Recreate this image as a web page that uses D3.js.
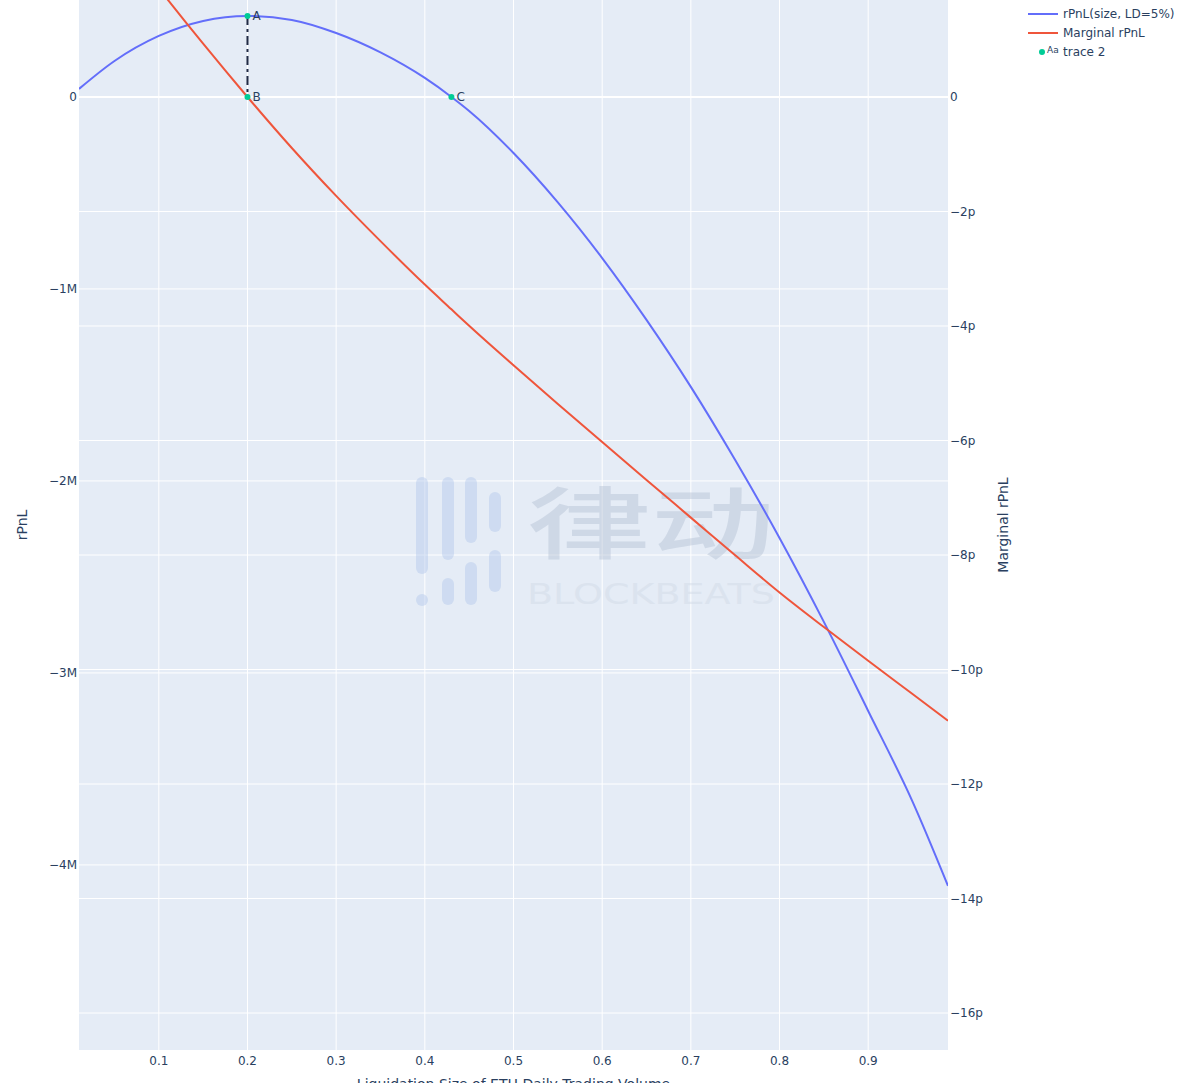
<!DOCTYPE html>
<html>
<head>
<meta charset="utf-8">
<script src="https://cdn.jsdelivr.net/npm/d3@7"></script>
<style>
  html, body { margin: 0; padding: 0; background: #fff; }
  svg { display: block; }
  text { font-family: "DejaVu Sans", Verdana, sans-serif; fill: #2a3f5f; }
</style>
</head>
<body>
<svg id="chart" width="1190" height="1083"></svg>
<script>
// ---- data ----
const xValues = [0.01, 0.05, 0.10, 0.15, 0.20, 0.25, 0.30, 0.35, 0.40, 0.43, 0.45, 0.50, 0.55, 0.60, 0.65, 0.70, 0.75, 0.80, 0.85, 0.90, 0.95, 0.99];
const rpnlValues = [0.042e6, 0.1875e6, 0.318e6, 0.396e6, 0.422e6, 0.401e6, 0.333e6, 0.232e6, 0.099e6, 0.0, -0.073e6, -0.292e6, -0.549e6, -0.839e6, -1.161e6, -1.510e6, -1.891e6, -2.297e6, -2.734e6, -3.198e6, -3.67e6, -4.109e6];
const marginalValues = [3.742e-12, 2.905e-12, 1.898e-12, 0.93e-12, 0.0, -0.891e-12, -1.728e-12, -2.518e-12, -3.277e-12, -3.709e-12, -3.997e-12, -4.687e-12, -5.361e-12, -6.027e-12, -6.689e-12, -7.347e-12, -8.005e-12, -8.655e-12, -9.259e-12, -9.848e-12, -10.428e-12, -10.893e-12];
const markerPoints = [
  { label: "A", x: 0.2, y: 0.422e6 },
  { label: "B", x: 0.2, y: 0 },
  { label: "C", x: 0.43, y: 0 }
];
const xTicks = [0.1, 0.2, 0.3, 0.4, 0.5, 0.6, 0.7, 0.8, 0.9];
const yLeftTicks = [0, -1e6, -2e6, -3e6, -4e6];
const yLeftLabels = ["0", "\u22121M", "\u22122M", "\u22123M", "\u22124M"];
const yRightTicks = [0, -2e-12, -4e-12, -6e-12, -8e-12, -10e-12, -12e-12, -14e-12, -16e-12];
const yRightLabels = ["0", "\u22122p", "\u22124p", "\u22126p", "\u22128p", "\u221210p", "\u221212p", "\u221214p", "\u221216p"];
const seriesNames = ["rPnL(size, LD=5%)", "Marginal rPnL", "trace 2"];
const xTitle = "Liquidation Size of ETH Daily Trading Volume";

// ---- layout ----
const svg = d3.select("#chart");
const L = 79, R = 948, T = 0, B = 1050;
const colors = { blue: "#636efa", red: "#ef553b", green: "#00cc96", bg: "#e5ecf6" };

const x = d3.scaleLinear().domain([0.01, 0.99]).range([L, R]);
const yL = d3.scaleLinear().domain([-4.964e6, 0.505e6]).range([B, T]);
const yR = d3.scaleLinear().domain([-16.646e-12, 1.694e-12]).range([B, T]);

svg.append("defs").append("clipPath").attr("id", "clip")
  .append("rect").attr("x", L).attr("y", T).attr("width", R - L).attr("height", B - T);

svg.append("rect").attr("x", L).attr("y", T).attr("width", R - L).attr("height", B - T).attr("fill", colors.bg);

// gridlines
const grid = svg.append("g").attr("stroke", "#fff").attr("stroke-width", 1);
xTicks.forEach(t => grid.append("line").attr("x1", x(t)).attr("x2", x(t)).attr("y1", T).attr("y2", B));
yRightTicks.forEach(t => { if (t !== 0) grid.append("line").attr("x1", L).attr("x2", R).attr("y1", yR(t)).attr("y2", yR(t)); });
yLeftTicks.forEach(t => { if (t !== 0) grid.append("line").attr("x1", L).attr("x2", R).attr("y1", yL(t)).attr("y2", yL(t)); });
grid.append("line").attr("x1", L).attr("x2", R).attr("y1", yL(0)).attr("y2", yL(0)).attr("stroke-width", 2);

// watermark
const wm = svg.append("g").attr("opacity", 0.45);
const bars = [
  [416, 477, 574], [416, 594, 606],
  [442, 477, 560], [442, 578, 605],
  [465, 477, 543], [465, 562, 605],
  [489, 492, 532], [489, 550, 592]
];
bars.forEach(b => wm.append("rect").attr("x", b[0]).attr("y", b[1]).attr("width", 12)
  .attr("height", Math.max(12, b[2] - b[1])).attr("rx", 6).attr("fill", "#b3c8ec"));
wm.append("text").attr("x", 527).attr("y", 553).attr("textLength", 248).attr("lengthAdjust", "spacingAndGlyphs")
  .style("font-family", "'Noto Sans CJK SC', sans-serif").style("font-weight", "500").style("font-size", "78px")
  .style("fill", "#b4c1d4").text("律动");
wm.append("text").attr("x", 527).attr("y", 604).attr("textLength", 248).attr("lengthAdjust", "spacingAndGlyphs")
  .style("font-size", "28px").style("fill", "#d0d9e6").text("BLOCKBEATS");

// lines
const plot = svg.append("g").attr("clip-path", "url(#clip)");
const lineL = d3.line().x((d, i) => x(xValues[i])).y(d => yL(d)).curve(d3.curveMonotoneX);
const lineR = d3.line().x((d, i) => x(xValues[i])).y(d => yR(d)).curve(d3.curveMonotoneX);
plot.append("path").datum(rpnlValues).attr("d", lineL).attr("fill", "none").attr("stroke", colors.blue).attr("stroke-width", 2);
plot.append("path").datum(marginalValues).attr("d", lineR).attr("fill", "none").attr("stroke", colors.red).attr("stroke-width", 2);

// A-B dash-dot connector
plot.append("line")
  .attr("x1", x(markerPoints[0].x)).attr("y1", yL(markerPoints[0].y))
  .attr("x2", x(markerPoints[1].x)).attr("y2", yL(markerPoints[1].y))
  .attr("stroke", "#222b45").attr("stroke-width", 2).attr("stroke-dasharray", "9,4,3,4");

// markers
markerPoints.forEach(p => {
  plot.append("circle").attr("cx", x(p.x)).attr("cy", yL(p.y)).attr("r", 3).attr("fill", colors.green);
  svg.append("text").attr("x", x(p.x) + 5).attr("y", yL(p.y)).attr("dy", "0.35em")
    .style("font-size", "12px").text(p.label);
});

// axes labels
xTicks.forEach(t => svg.append("text").attr("x", x(t)).attr("y", 1065).attr("text-anchor", "middle")
  .style("font-size", "12px").text(d3.format(".1f")(t)));
yLeftTicks.forEach((t, i) => svg.append("text").attr("x", 77).attr("y", yL(t)).attr("dy", "0.35em")
  .attr("text-anchor", "end").style("font-size", "12px").text(yLeftLabels[i]));
yRightTicks.forEach((t, i) => svg.append("text").attr("x", 950).attr("y", yR(t)).attr("dy", "0.35em")
  .attr("text-anchor", "start").style("font-size", "12px").text(yRightLabels[i]));

svg.append("text").attr("transform", `translate(27,${(T + B) / 2}) rotate(-90)`).attr("text-anchor", "middle")
  .style("font-size", "14px").text("rPnL");
svg.append("text").attr("transform", `translate(1008,${(T + B) / 2}) rotate(-90)`).attr("text-anchor", "middle")
  .style("font-size", "14px").text("Marginal rPnL");
svg.append("text").attr("x", (L + R) / 2).attr("y", 1089).attr("text-anchor", "middle")
  .style("font-size", "14px").text(xTitle);

// legend
const lg = svg.append("g");
[colors.blue, colors.red].forEach((c, i) => {
  const yy = 14 + i * 19;
  lg.append("line").attr("x1", 1028).attr("x2", 1058).attr("y1", yy).attr("y2", yy).attr("stroke", c).attr("stroke-width", 2);
  lg.append("text").attr("x", 1063).attr("y", yy).attr("dy", "0.35em").style("font-size", "12px").text(seriesNames[i]);
});
lg.append("circle").attr("cx", 1042).attr("cy", 52).attr("r", 3).attr("fill", colors.green);
lg.append("text").attr("x", 1047).attr("y", 51).attr("dy", "0.2em").style("font-size", "9px").text("Aa");
lg.append("text").attr("x", 1063).attr("y", 52).attr("dy", "0.35em").style("font-size", "12px").text(seriesNames[2]);
</script>
</body>
</html>
